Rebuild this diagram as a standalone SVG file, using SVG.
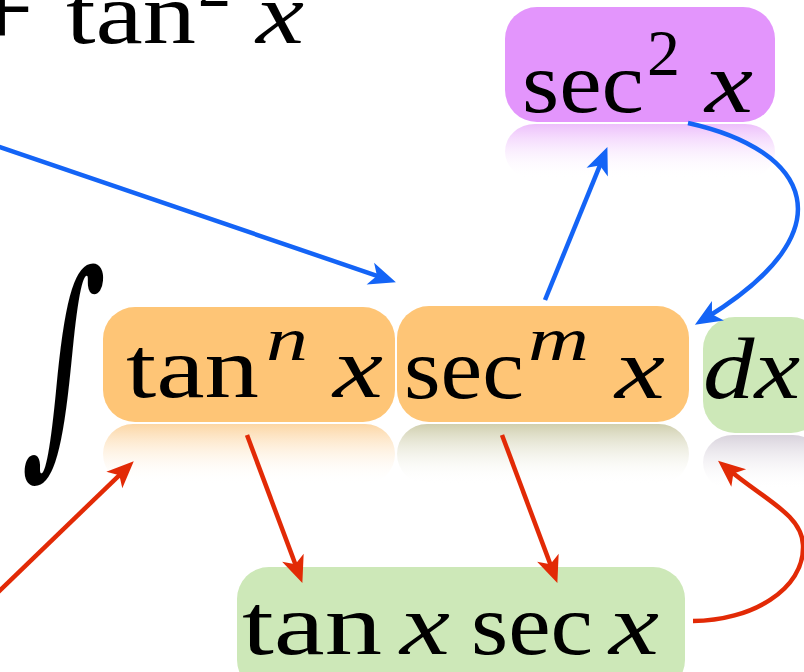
<svg xmlns="http://www.w3.org/2000/svg" width="804" height="672" viewBox="0 0 804 672">
<defs>
<style>
.t{font-family:"Liberation Serif","Times New Roman",serif;font-size:86px;fill:#000}
.i{font-style:italic}
.s{font-size:62px}
.bl{fill:none;stroke:#1464F6;stroke-width:4.5}
.rd{fill:none;stroke:#E22A06;stroke-width:4.5}
</style>
<marker id="ab" markerUnits="userSpaceOnUse" markerWidth="40" markerHeight="40" viewBox="-20 -20 40 40" refX="0" refY="0" orient="auto" overflow="visible">
<path d="M13,0 L-14,-11.5 L-7,0 L-14,11.5 Z" fill="#1464F6"/>
</marker>
<marker id="ar" markerUnits="userSpaceOnUse" markerWidth="40" markerHeight="40" viewBox="-20 -20 40 40" refX="0" refY="0" orient="auto" overflow="visible">
<path d="M13,0 L-14,-11.5 L-7,0 L-14,11.5 Z" fill="#E22A06"/>
</marker>
<linearGradient id="gOr" x1="0" y1="0" x2="0" y2="1"><stop offset="0" stop-color="#FCD6A4"/><stop offset="1" stop-color="#FFFFFF" stop-opacity="0"/></linearGradient>
<linearGradient id="gSm" x1="0" y1="0" x2="0" y2="1"><stop offset="0" stop-color="#D0CFAE"/><stop offset="1" stop-color="#FFFFFF" stop-opacity="0"/></linearGradient>
<linearGradient id="gDx" x1="0" y1="0" x2="0" y2="1"><stop offset="0" stop-color="#D8D2DC"/><stop offset="1" stop-color="#FFFFFF" stop-opacity="0"/></linearGradient>
<linearGradient id="gPu" x1="0" y1="0" x2="0" y2="1"><stop offset="0" stop-color="#EDBFFB"/><stop offset="1" stop-color="#FFFFFF" stop-opacity="0"/></linearGradient>
</defs>
<rect width="804" height="672" fill="#FFFFFF"/>

<g id="top-formula">
<text class="t" x="2" y="47" text-anchor="middle" style="font-size:112px">+</text>
<text class="t" x="66" y="43" textLength="130" lengthAdjust="spacingAndGlyphs">tan</text>
<text class="t" x="198" y="6" style="font-size:66px">2</text>
<text class="t i" x="256" y="43" textLength="48" lengthAdjust="spacingAndGlyphs">x</text>
</g>

<g id="integral">
<text transform="translate(58,443) skewX(-5) scale(0.62,1.13)" text-anchor="middle" style="font-family:'DejaVu Serif',serif;font-size:210px">∫</text>
</g>

<g id="node-sec2">
<rect x="505" y="124" width="270" height="55" rx="30" fill="url(#gPu)"/>
<rect x="505" y="7" width="270" height="115" rx="32" fill="#E395FC"/>
<text class="t" x="522" y="112" textLength="122" lengthAdjust="spacingAndGlyphs">sec</text>
<text class="t" x="647" y="75" style="font-size:66px">2</text>
<text class="t i" x="705" y="112" textLength="48" lengthAdjust="spacingAndGlyphs">x</text>
</g>

<g id="node-tann">
<rect x="103" y="424" width="292" height="60" rx="30" fill="url(#gOr)"/>
<rect x="103" y="307" width="292" height="115" rx="32" fill="#FEC576"/>
<text class="t" x="126" y="397" textLength="133" lengthAdjust="spacingAndGlyphs">tan</text>
<text class="t i s" x="266" y="360" textLength="42" lengthAdjust="spacingAndGlyphs">n</text>
<text class="t i" x="333" y="397" textLength="50" lengthAdjust="spacingAndGlyphs">x</text>
</g>

<g id="node-secm">
<rect x="397" y="424" width="292" height="60" rx="30" fill="url(#gSm)"/>
<rect x="397" y="306" width="292" height="116" rx="32" fill="#FEC576"/>
<text class="t" x="404" y="398" textLength="120" lengthAdjust="spacingAndGlyphs">sec</text>
<text class="t i s" x="528" y="360" textLength="61" lengthAdjust="spacingAndGlyphs">m</text>
<text class="t i" x="615" y="398" textLength="50" lengthAdjust="spacingAndGlyphs">x</text>
</g>

<g id="node-dx">
<rect x="703" y="435" width="120" height="55" rx="30" fill="url(#gDx)"/>
<rect x="703" y="317" width="120" height="116" rx="32" fill="#CDE8B8"/>
<text class="t i" x="703" y="398" textLength="97" lengthAdjust="spacingAndGlyphs">dx</text>
</g>

<g id="node-tansec">
<rect x="237" y="567" width="448" height="125" rx="32" fill="#CDE8B8"/>
<text class="t" x="242" y="654" textLength="140" lengthAdjust="spacingAndGlyphs">tan</text>
<text class="t i" x="400" y="654" textLength="50" lengthAdjust="spacingAndGlyphs">x</text>
<text class="t" x="471" y="654" textLength="122" lengthAdjust="spacingAndGlyphs">sec</text>
<text class="t i" x="609" y="654" textLength="50" lengthAdjust="spacingAndGlyphs">x</text>
</g>

<g id="connectors">
<path class="bl" d="M-10,143.6 L383.6,278.1" marker-end="url(#ab)"/>
<path class="bl" d="M545,300 L602.5,159.1" marker-end="url(#ab)"/>
<path class="bl" d="M688,123 C810,150 850,230 706,318" marker-end="url(#ab)"/>
<path class="rd" d="M-10,600 L124.4,470.3" marker-end="url(#ar)"/>
<path class="rd" d="M247,435 L297.8,570.8" marker-end="url(#ar)"/>
<path class="rd" d="M502,435 L552.8,570.8" marker-end="url(#ar)"/>
<path class="rd" d="M693,621 C750,621 805,590 803,545 C802,515 765,500 728,469" marker-end="url(#ar)"/>
</g>
</svg>
